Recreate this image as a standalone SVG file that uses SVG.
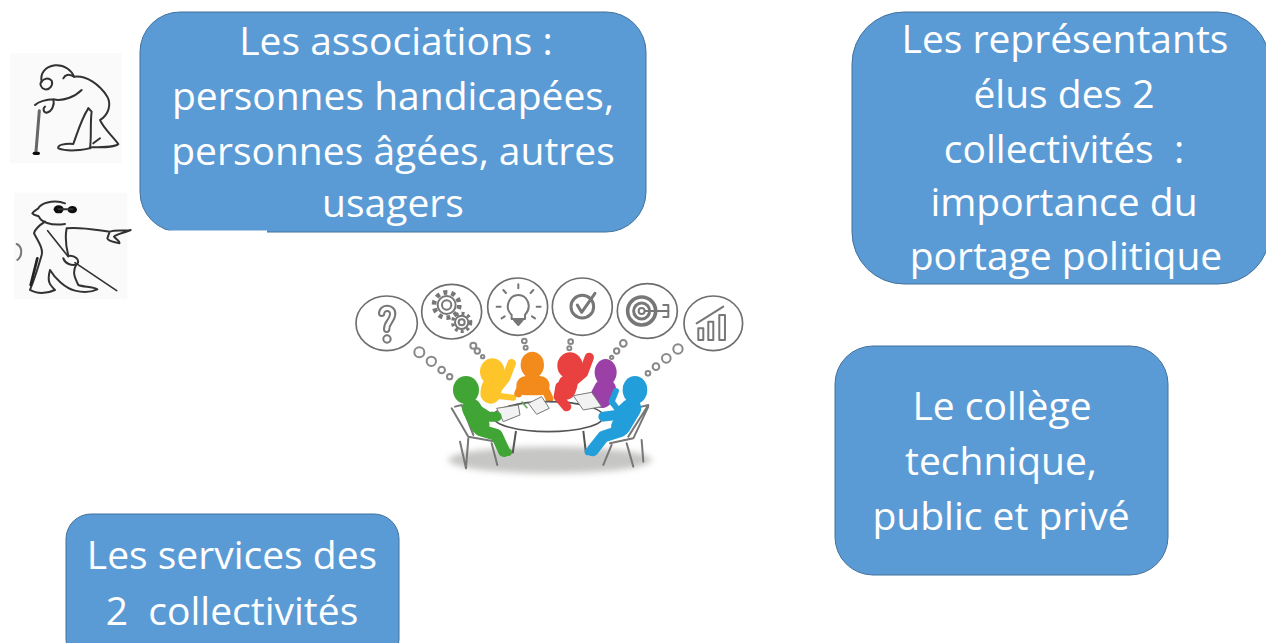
<svg xmlns="http://www.w3.org/2000/svg" width="1266" height="643" viewBox="0 0 1266 643">
<defs>
<filter id="soft" x="-5%" y="-5%" width="110%" height="110%"><feGaussianBlur stdDeviation="2.2"/></filter>
<filter id="soft1" x="-5%" y="-5%" width="110%" height="110%"><feGaussianBlur stdDeviation="1.3"/></filter>
<filter id="soft2" x="-20%" y="-50%" width="140%" height="200%"><feGaussianBlur stdDeviation="9"/></filter>
</defs>
<style>
.box{fill:#5b9bd5;stroke:#41719c;stroke-width:1}
.t{font-family:"Open Sans","Noto Sans","Liberation Sans",sans-serif;font-size:39px;fill:#fff;text-anchor:middle;white-space:pre}
.ink{fill:none;stroke:#333;stroke-width:6;stroke-linecap:round;stroke-linejoin:round}
.bub{fill:#fff;stroke:#6e6e6e;stroke-width:5}
.ic{fill:none;stroke:#777;stroke-width:6;stroke-linecap:round;stroke-linejoin:round}
.dot{fill:#fff;stroke:#888;stroke-width:6}
.chair{fill:none;stroke:#777;stroke-width:6;stroke-linecap:round;stroke-linejoin:round}
.limb{fill:none;stroke-linecap:round;stroke-linejoin:round}
</style>
<rect width="1266" height="643" fill="#fff"/>

<g id="old-man" transform="translate(0 40) scale(.3333)">
<rect x="30" y="40" width="335" height="330" fill="#fafafa"/>
<g class="ink" filter="url(#soft1)">
<path d="M125 125C120 100 135 80 165 76C195 74 215 92 222 110C260 105 300 135 322 170C335 195 325 225 300 240C310 265 335 285 355 312C345 322 310 322 275 322C250 332 200 335 175 325C170 315 195 310 220 312C235 270 245 235 265 205"/>
<path d="M125 125C118 130 122 145 135 148C150 150 160 135 155 122C145 112 130 115 125 125Z"/>
<path d="M222 110C205 100 195 105 190 115M245 150C225 170 190 185 160 178C140 178 115 185 105 195M160 178C165 195 155 215 140 218C130 218 128 205 135 200M265 205L275 215C270 250 275 290 270 325M280 310L300 295"/>
<path d="M118 212L108 335" stroke-width="9" stroke="#666"/>
<path d="M103 340L115 340" stroke-width="10" stroke="#111"/>
</g>
</g>

<g id="blind-man" transform="translate(0 40) scale(.3333)">
<rect x="42" y="458" width="340" height="320" fill="#fafafa"/>
<g class="ink" filter="url(#soft1)">
<ellipse cx="176" cy="508" rx="15" ry="12" fill="#111" stroke="none"/>
<ellipse cx="217" cy="509" rx="14" ry="11" fill="#111" stroke="none"/>
<path d="M176 508H217"/>
<path d="M118 500C135 485 170 480 195 490M118 500C116 508 100 512 97 520C103 528 112 525 117 530C122 545 150 558 195 552"/>
<path d="M135 545C120 555 105 565 102 580C115 605 130 625 125 645C115 680 100 725 90 750C110 762 140 762 165 750C150 735 140 725 150 690C165 715 195 745 225 752C250 758 275 756 292 748C280 738 250 742 235 735C225 715 215 695 230 672"/>
<path d="M200 565C240 560 290 570 330 575C350 568 380 575 392 570C375 578 350 582 342 590C350 600 362 605 358 610C340 605 325 605 322 595L328 578M200 565C195 590 198 620 205 648C225 645 240 660 232 672C215 680 195 670 190 655"/>
<path d="M143 572L205 650M225 668L350 752" stroke-width="5"/>
<path d="M112 655L92 735" stroke-width="8" stroke="#222"/>
<path d="M50 612C68 620 68 648 52 660" stroke="#777"/>
</g>
</g>

<g id="association-box"><rect class="box" x="140" y="12" width="506" height="220" rx="40"/><rect x="160" y="230.500" width="107" height="2.500" fill="#fff"/>
<text class="t" x="396" y="55">Les associations :</text><text class="t" x="393" y="110">personnes handicapées,</text><text class="t" x="393" y="165">personnes âgées, autres</text><text class="t" x="393" y="217">usagers</text></g>

<g id="elected-box"><rect class="box" x="852" y="12" width="418" height="272" rx="52"/>
<text class="t" x="1065" y="53">Les représentants</text><text class="t" x="1064" y="108">élus des 2</text><text class="t" x="1064" y="163">collectivités  :</text><text class="t" x="1064" y="216">importance du</text><text class="t" x="1066" y="270">portage politique</text></g>

<g id="technical-box"><rect class="box" x="835" y="346" width="333" height="229" rx="38"/>
<text class="t" x="1002" y="420">Le collège</text><text class="t" x="1001" y="475">technique,</text><text class="t" x="1001" y="530">public et privé</text></g>

<g id="services-box"><rect class="box" x="66" y="514" width="333" height="150" rx="25"/>
<text class="t" x="232" y="569">Les services des</text><text class="t" x="232" y="625">2  collectivités</text></g>

<g id="meeting" transform="translate(340 265) scale(.3333)">
<ellipse cx="630" cy="585" rx="305" ry="40" fill="#c6c6c4" filter="url(#soft2)"/>
<g filter="url(#soft)">
<ellipse class="bub" cx="140" cy="175" rx="92" ry="82"/>
<ellipse class="bub" cx="335" cy="140" rx="90" ry="82"/>
<ellipse class="bub" cx="533" cy="125" rx="90" ry="86"/>
<ellipse class="bub" cx="727" cy="125" rx="90" ry="86"/>
<ellipse class="bub" cx="922" cy="138" rx="90" ry="82"/>
<ellipse class="bub" cx="1120" cy="175" rx="88" ry="82"/>
<circle class="dot" cx="238" cy="262" r="15"/><circle class="dot" cx="274" cy="289" r="14"/><circle class="dot" cx="305" cy="315" r="10"/><circle class="dot" cx="329" cy="335" r="8"/>
<circle class="dot" cx="400" cy="242" r="9"/><circle class="dot" cx="412" cy="258" r="8"/><circle class="dot" cx="428" cy="275" r="5"/>
<circle class="dot" cx="553" cy="228" r="7"/><circle class="dot" cx="557" cy="248" r="6"/>
<circle class="dot" cx="692" cy="230" r="7"/><circle class="dot" cx="688" cy="250" r="6"/>
<circle class="dot" cx="850" cy="235" r="10"/><circle class="dot" cx="830" cy="258" r="8"/><circle class="dot" cx="815" cy="277" r="5"/>
<circle class="dot" cx="1014" cy="252" r="14"/><circle class="dot" cx="979" cy="280" r="13"/><circle class="dot" cx="948" cy="305" r="10"/><circle class="dot" cx="924" cy="325" r="7"/>
<g class="ic">
<path d="M125 145C125 125 160 125 158 148C156 170 140 170 140 193" stroke-width="22"/><path d="M125 145C125 125 160 125 158 148C156 170 140 170 140 193" stroke-width="10" stroke="#fff"/><circle cx="141" cy="222" r="11"/>
<circle cx="320" cy="120" r="27"/><circle cx="320" cy="120" r="38" stroke-width="14" stroke-dasharray="12 12" stroke-linecap="butt"/><circle cx="320" cy="120" r="14"/>
<circle cx="365" cy="172" r="20"/><circle cx="365" cy="172" r="27" stroke-width="10" stroke-dasharray="9 9" stroke-linecap="butt"/><circle cx="365" cy="172" r="9"/>
<path d="M515 150C490 125 510 90 535 90C562 90 578 125 555 150V162H515Z"/><path d="M522 165L548 165L535 180Z" fill="#777"/>
<path d="M535 58V70M490 75L498 84M580 75L572 84M470 125H482M590 125H602M485 160L494 154M585 160L576 154"/>
<circle cx="727" cy="125" r="34" stroke-width="9"/><path d="M712 120L725 142L765 85" stroke-width="9"/>
<circle cx="905" cy="138" r="42" stroke-width="11"/><circle cx="905" cy="138" r="24" stroke-width="9"/><circle cx="905" cy="138" r="9"/><path d="M915 138H985"/><path d="M970 120H985V156H970"/>
<path d="M1075 190H1090V225H1075ZM1105 170H1120V225H1105ZM1138 150H1155V225H1138ZM1070 175L1150 125"/>
</g>
</g>

<g filter="url(#soft)">
<g class="chair">
<path d="M335 430L385 515L470 530M345 425L365 420L400 510"/>
<path d="M385 520L378 610M360 530L378 610M455 535L472 600"/>
<path d="M925 425L880 520L810 535M905 425L925 420L865 515"/>
<path d="M905 525L910 590M860 535L880 605M815 540L790 600"/>
</g>
<g class="limb" stroke="#9a3fa6"><ellipse cx="797" cy="322" rx="33" ry="40" fill="#9a3fa6" stroke="none"/><path d="M795 375L785 395" stroke-width="68"/></g>
<g class="limb" stroke="#fdc52c"><ellipse cx="457" cy="320" rx="37" ry="40" fill="#fdc52c" stroke="none"/><path d="M455 368L452 385" stroke-width="62"/><path d="M470 375L498 340L515 295" stroke-width="26"/><path d="M470 392L520 398" stroke-width="18"/></g>
<g class="limb" stroke="#f38b1d"><ellipse cx="577" cy="300" rx="35" ry="40" fill="#f38b1d" stroke="none"/><path d="M558 362H600" stroke-width="58"/><path d="M546 360L535 385M612 365L628 400" stroke-width="24"/></g>
<g class="limb" stroke="#e9413f"><ellipse cx="690" cy="302" rx="38" ry="40" fill="#e9413f" stroke="none"/><path d="M684 358L678 375" stroke-width="58"/><path d="M695 355L730 325L748 277" stroke-width="28"/></g>
<ellipse cx="625" cy="455" rx="165" ry="45" fill="#fff" stroke="#555" stroke-width="5"/>
<path d="M528 498L518 565M730 498L738 565" stroke="#555" stroke-width="6" fill="none"/>
<path d="M660 365L655 395L680 425" class="limb" stroke="#e9413f" stroke-width="28"/>
<path d="M470 430L535 420L540 450L490 470ZM565 415L605 395L628 430L590 448ZM700 392L755 382L785 425L730 435Z" fill="#f2f2f2" stroke="#777" stroke-width="3"/>
<path d="M545 410L562 430" stroke="#6a6" stroke-width="5"/>
<g class="limb" stroke="#3fa535"><ellipse cx="378" cy="375" rx="39" ry="42" fill="#3fa535" stroke="none"/><path d="M395 430L420 480" stroke-width="58"/><path d="M405 430L445 455H470" stroke-width="30"/><path d="M420 495L470 510L492 558" stroke-width="36"/><path d="M490 562H505" stroke-width="22"/></g>
<g class="limb" stroke="#249fda"><ellipse cx="885" cy="375" rx="37" ry="42" fill="#249fda" stroke="none"/><path d="M875 430L842 485" stroke-width="58"/><path d="M862 420L830 450L790 455" stroke-width="30"/><path d="M828 378L815 410L832 432" stroke-width="18"/><path d="M842 498L790 515L758 556" stroke-width="36"/><path d="M758 560H745" stroke-width="22"/></g>
</g>
</g>
</svg>
